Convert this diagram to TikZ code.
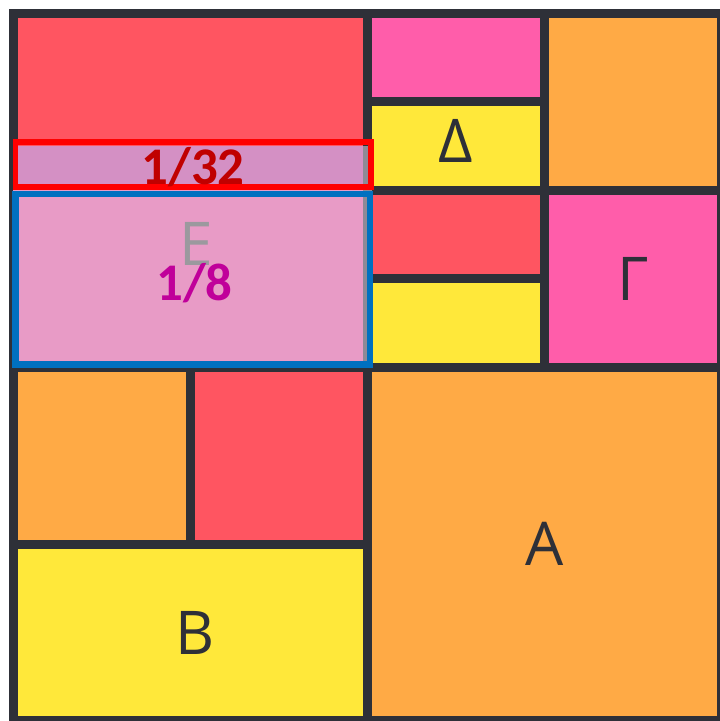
\documentclass[tikz,border=0pt]{standalone}
\usepackage{fontspec}
\newfontfamily\lettfont{Open Sans}
\newfontfamily\fracfont{Carlito}
\definecolor{grid}{HTML}{2E3038}
\definecolor{cred}{HTML}{FF5561}
\definecolor{cpink}{HTML}{FF5DAA}
\definecolor{corange}{HTML}{FFAA45}
\definecolor{cyellow}{HTML}{FFE83A}
\definecolor{stripfill}{HTML}{D490C4}
\definecolor{efill}{HTML}{E89BC6}
\definecolor{seegray}{HTML}{8E8A96}
\definecolor{egray}{HTML}{9B999E}
\definecolor{darkred}{HTML}{C00000}
\definecolor{magent}{HTML}{C0009A}
\definecolor{boxblue}{HTML}{0070C0}

\begin{document}
\begin{tikzpicture}[
  cell/.style={draw=grid,line width=0.1017cm},
  letter/.style={text=grid,inner sep=0,font=\lettfont\fontsize{19.4}{20}\selectfont},
  fraclabel/.style={inner sep=0,font=\fracfont\bfseries\fontsize{17}{19}\selectfont}
]
\useasboundingbox[fill=white] (-0.1525,0) rectangle (7.983,8.147);
% top left
\filldraw[cell,fill=cred] (0,6) rectangle (4,8);
\filldraw[cell,fill=cpink] (0,4) rectangle (4,6);
% top right
\filldraw[cell,fill=cpink] (4,7) rectangle (6,8);
\filldraw[cell,fill=cyellow] (4,6) rectangle (6,7);
\filldraw[cell,fill=corange] (6,6) rectangle (8,8);
\filldraw[cell,fill=cred] (4,5) rectangle (6,6);
\filldraw[cell,fill=cyellow] (4,4) rectangle (6,5);
\filldraw[cell,fill=cpink] (6,4) rectangle (8,6);
% bottom
\filldraw[cell,fill=corange] (0,2) rectangle (2,4);
\filldraw[cell,fill=cred] (2,2) rectangle (4,4);
\filldraw[cell,fill=cyellow] (0,0) rectangle (4,2);
\filldraw[cell,fill=corange] (4,0) rectangle (8,4);
% overlay on the E part
\fill[stripfill] (0,6) rectangle (4,6.5);
\fill[efill] (0,4) rectangle (4,6);
\draw[seegray,line width=0.1017cm] (4,4.04) -- (4,6.5);
\node[letter] (delta) at (5,6.55) {Δ};
\node[letter] (gamma) at (7,5) {Γ};
\node[letter] (a) at (6,2) {A};
\node[letter] (b) at (2.05,1) {B};
\node[letter,text=egray] (e) at (2.07,5.39) {E};
\draw[red,line width=0.063cm] (0.0226,6.037) rectangle (4.04,6.542);
\draw[boxblue,line width=0.07cm] (0.0226,4.028) rectangle (4.028,5.955);
\node[fraclabel,text=darkred] (quarter) at (2.03,6.26) {1/32};
\node[fraclabel,text=magent] (eighth) at (2.045,4.95) {1/8};
\end{tikzpicture}
\end{document}
